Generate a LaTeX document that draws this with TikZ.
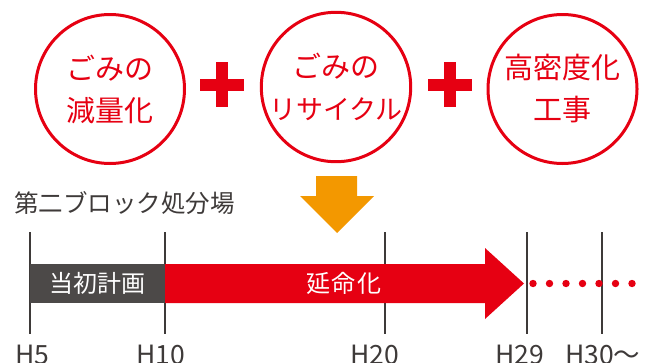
\documentclass[tikz,border=0pt]{standalone}
\usepackage{fontspec}
\newfontfamily\jp{Noto Sans CJK JP}
\newfontfamily\jpwide[LetterSpace=8]{Noto Sans CJK JP}
\definecolor{myred}{HTML}{E60012}
\definecolor{myorange}{HTML}{F39800}
\definecolor{bargray}{HTML}{4C4948}
\definecolor{txtgray}{HTML}{3E3A39}
\begin{document}
\begin{tikzpicture}[x=1pt,y=-1pt,
  bubble/.style={circle,draw=myred,line width=3pt,minimum size=149pt,inner sep=0pt,
    text=myred,align=center,font=\jp\fontsize{29}{42}\selectfont},
  tick/.style={draw=txtgray,line width=1.4pt},
  yearlbl/.style={anchor=base west,inner sep=0pt,text=txtgray,font=\jp\fontsize{26.5}{26}\selectfont},
  bartext/.style={text=white,inner sep=0pt,font=\jp\fontsize{24}{24}\selectfont}]
\useasboundingbox (0,0) rectangle (660,362);
% circles
\node[bubble] (c1) at (110,89) {ごみの\\減量化};
\node[bubble] (c2) at (336,87) {ごみの\\\fontsize{27}{42}\selectfont リサイクル};
\node[bubble] (c3) at (562.5,89) {高密度化\\工事};
% plus signs
\foreach \cx in {222,450}{
  \fill[myred] (\cx-22,79) rectangle (\cx+22,91);
  \fill[myred] (\cx-6,62) rectangle (\cx+6,107);
}
% orange arrow
\fill[myorange] (316,176) -- (357,176) -- (357,196) -- (374,196) -- (337,233) -- (300,196) -- (316,196) -- cycle;
% title
\node[anchor=west,inner sep=0pt,text=txtgray,font=\jp\fontsize{24.5}{24}\selectfont] (title) at (14,203.5) {第二ブロック処分場};
% ticks
\foreach \tx in {30,165,385,527,602}{
  \draw[tick] (\tx,232) -- (\tx,334);
}
% bars
\fill[bargray] (30,264) rectangle (165,303);
\node[bartext] (plan) at (97.5,283.5) {当初計画};
\fill[myred] (165,264) -- (485,264) -- (485,248) -- (524,283.5) -- (485,319) -- (485,303) -- (165,303) -- cycle;
\node[bartext,font=\jpwide\fontsize{24}{24}\selectfont] (ext) at (344,283.5) {延命化};
% dots
\foreach \i in {0,...,6}{
  \fill[myred] (533+16.5*\i,283.5) circle (3.7);
}
% year labels
\node[yearlbl] (h5) at (15,364) {H5};
\node[yearlbl] (h10) at (136,364) {H10};
\node[yearlbl] (h20) at (350,364) {H20};
\node[yearlbl] (h29) at (495,364) {H29};
\node[yearlbl] (h30) at (565,364) {H30〜};
\end{tikzpicture}
\end{document}
